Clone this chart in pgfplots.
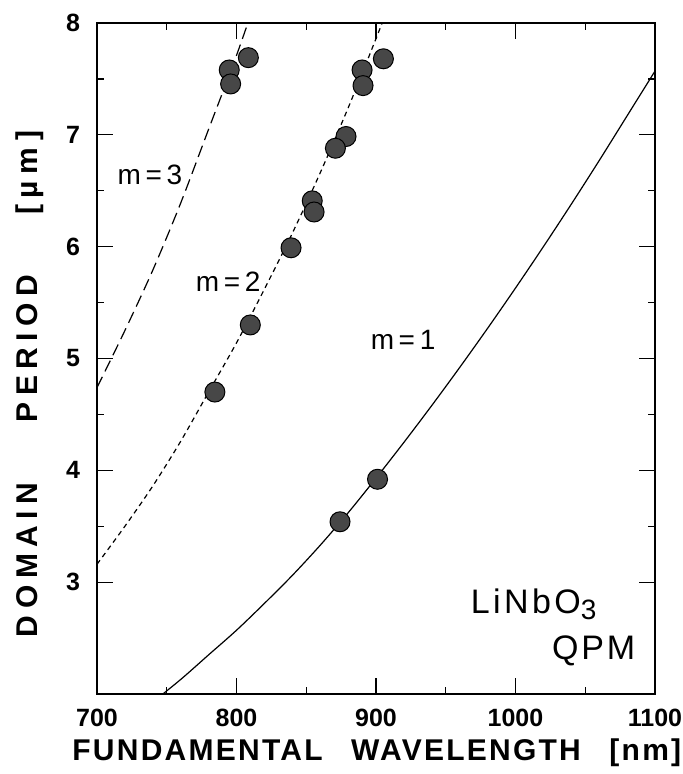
\documentclass[border=0pt]{standalone}
\usepackage{fontspec}
\setmainfont{Liberation Sans}
\usepackage{pgfplots}
\pgfplotsset{compat=1.18}
\begin{document}
\begin{tikzpicture}
\path[use as bounding box] (-48.5pt,-40pt) rectangle (292.5pt,347pt);
\begin{axis}[
  at={(0,0)}, anchor=south west,
  scale only axis, width=279pt, height=335.5pt,
  xmin=700, xmax=1100, ymin=2, ymax=8,
  xtick={700,800,900,1000,1100}, ytick={3,4,5,6,7,8},
  minor x tick num=1, minor y tick num=1,
  tick align=inside, major tick length=8pt, minor tick length=3.5pt,
  tick style={black, line width=0.6pt},
  axis line style={line width=0.8pt},
  /pgf/number format/assume math mode=true,
  /pgf/number format/1000 sep={},
  tick label style={font=\fontsize{12.5}{15}\selectfont\bfseries},
  xticklabel style={yshift=-4pt},
  yticklabel style={xshift=-5pt},
]
% m = 3
\addplot[black, line width=0.6pt, dash pattern=on 6pt off 3pt, smooth] coordinates {
(700,4.74) (720,5.25) (740,5.79) (760,6.39) (780,7.05) (800,7.71) (820,8.43)};
% m = 2
\addplot[black, line width=0.6pt, dash pattern=on 2.5pt off 2pt, smooth] coordinates {
(700,3.16) (720,3.50) (740,3.86) (760,4.26) (780,4.70) (800,5.14) (820,5.62) (840,6.12) (860,6.66) (880,7.24) (900,7.86) (920,8.50)};
% m = 1
\addplot[black, line width=0.6pt, smooth] coordinates {
(700,1.58) (720,1.75) (740,1.93) (760,2.13) (780,2.35) (800,2.57) (820,2.81) (840,3.06) (860,3.33) (880,3.62) (900,3.93) (920,4.25) (940,4.58) (960,4.92) (980,5.27) (1000,5.63) (1020,6.00) (1040,6.38) (1060,6.77) (1080,7.17) (1100,7.57)};
% measured points
\addplot[only marks, mark=*, mark size=5pt, mark options={fill=black!72, draw=black, line width=0.5pt}] coordinates {
(794.8,7.58) (795.8,7.455) (808.5,7.69)
(890,7.58) (890.7,7.44) (905.3,7.68) (878.5,6.985) (870.9,6.88)
(854.3,6.41) (855.6,6.31) (839.1,5.99) (809.9,5.30) (784.5,4.70)
(874.2,3.54) (901.1,3.92)};
\node[font=\fontsize{14}{16}\selectfont] at (axis cs:738,6.64) {m\,=\,3};
\node[font=\fontsize{14}{16}\selectfont] at (axis cs:794,5.69) {m\,=\,2};
\node[font=\fontsize{14}{16}\selectfont] at (axis cs:919.4,5.17) {m\,=\,1};
\node[font=\fontsize{17}{19}\selectfont\addfontfeatures{LetterSpace=10}] at (axis cs:1013,2.80) {LiNbO\raisebox{-0.35ex}{\fontsize{14}{16}\selectfont 3}};
\node[font=\fontsize{17}{19}\selectfont\addfontfeatures{LetterSpace=8}] at (axis cs:1056,2.39) {QPM};
\end{axis}
\node[anchor=west, inner sep=0pt, font=\fontsize{15}{17}\selectfont\bfseries\addfontfeatures{LetterSpace=7.5}] at (-12.5pt,-29.5pt) {FUNDAMENTAL\hspace{0.6em} WAVELENGTH\hspace{0.6em} [nm]};
\node[rotate=90, font=\fontsize{15}{17}\selectfont\bfseries\addfontfeatures{LetterSpace=22}] at (-33.5pt,155pt) {DOMAIN\hspace{1.5em} PERIOD\hspace{1.5em} [µm]};
\end{tikzpicture}
\end{document}
